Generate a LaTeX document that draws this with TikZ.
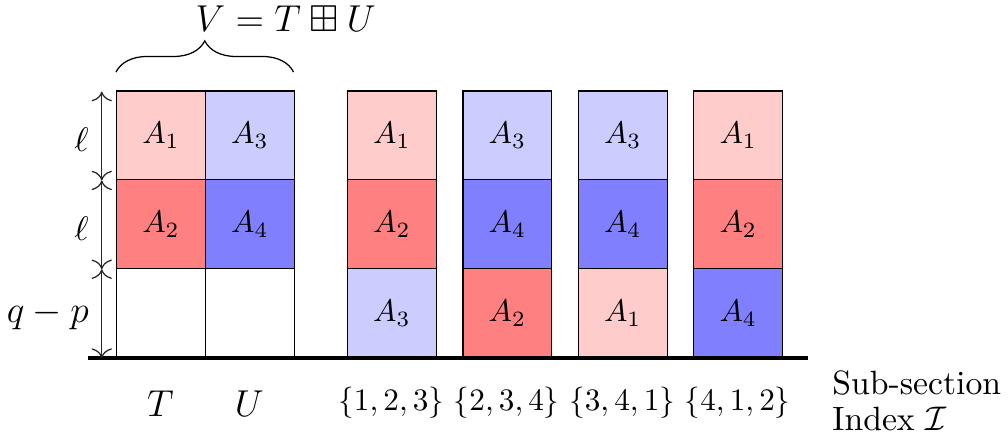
\documentclass[tikz,border=0pt]{standalone}
\usepackage{amssymb}
\usetikzlibrary{decorations.pathreplacing,arrows.meta}
\begin{document}
\begin{tikzpicture}[x=1cm,y=1cm,
  cell/.style={draw, minimum size=1cm, inner sep=0pt, anchor=south west},
  lr/.style={cell, fill=red!20},
  dr/.style={cell, fill=red!50},
  lb/.style={cell, fill=blue!20},
  db/.style={cell, fill=blue!50},
  em/.style={cell, fill=white},
  dim/.style={{To[scale=1.25]}-{To[scale=1.25]}, thin, black!85},
  sidelbl/.style={anchor=east, inner sep=0pt, font=\fontsize{11}{13}\selectfont},
  botlbl/.style={anchor=base, inner sep=0pt},
  txt/.style={anchor=base west, inner sep=0pt, font=\fontsize{10.8}{13}\selectfont}]
\useasboundingbox (-1.306,-0.991) rectangle (10.045,4.032);
% left block T, U
\node[lr] (t1) at (0,2) {$A_1$};
\node[dr] (t2) at (0,1) {$A_2$};
\node[em] (t3) at (0,0) {};
\node[lb] (u1) at (1,2) {$A_3$};
\node[db] (u2) at (1,1) {$A_4$};
\node[em] (u3) at (1,0) {};
% sub-sections
\node[lr] (a1) at (2.6,2) {$A_1$};
\node[dr] (a2) at (2.6,1) {$A_2$};
\node[lb] (a3) at (2.6,0) {$A_3$};
\node[lb] (b1) at (3.9,2) {$A_3$};
\node[db] (b2) at (3.9,1) {$A_4$};
\node[dr] (b3) at (3.9,0) {$A_2$};
\node[lb] (c1) at (5.2,2) {$A_3$};
\node[db] (c2) at (5.2,1) {$A_4$};
\node[lr] (c3) at (5.2,0) {$A_1$};
\node[lr] (e1) at (6.5,2) {$A_1$};
\node[dr] (e2) at (6.5,1) {$A_2$};
\node[db] (e3) at (6.5,0) {$A_4$};
% base line
\coordinate (bl) at (-0.315,0);
\coordinate (br) at (7.79,0);
\draw[line width=1pt] (bl) -- (br);
% dimension arrows
\coordinate (d0) at (-0.16,0);
\coordinate (d1) at (-0.16,1);
\coordinate (d2) at (-0.16,2);
\coordinate (d3) at (-0.16,3);
\draw[dim] (d3) -- (d2);
\draw[dim] (d2) -- (d1);
\draw[dim] (d1) -- (d0);
\node[sidelbl] (l1) at (-0.3,2.46) {$\ell$};
\node[sidelbl] (l2) at (-0.3,1.46) {$\ell$};
\node[sidelbl, font=\large] (l3) at (-0.3,0.48) {$q-p$};
% brace and title
\coordinate (br1) at (0,3.22);
\coordinate (br2) at (2,3.22);
\draw[decorate, decoration={brace, amplitude=10pt}] (br1) -- (br2);
\node[txt, font=\large] (title) at (0.89,3.68) {$V = T \boxplus U$};
% bottom labels
\node[botlbl, font=\large] (lt) at (0.5,-0.653) {$T$};
\node[botlbl, font=\large] (lu) at (1.5,-0.653) {$U$};
\node[botlbl] (s1) at (3.1,-0.586) {$\{1,2,3\}$};
\node[botlbl] (s2) at (4.4,-0.586) {$\{2,3,4\}$};
\node[botlbl] (s3) at (5.7,-0.586) {$\{3,4,1\}$};
\node[botlbl] (s4) at (7.0,-0.586) {$\{4,1,2\}$};
\node[txt] (sub) at (8.06,-0.405) {Sub-section};
\node[txt] (idx) at (8.06,-0.82) {Index $\mathcal{I}$};
\end{tikzpicture}
\end{document}
